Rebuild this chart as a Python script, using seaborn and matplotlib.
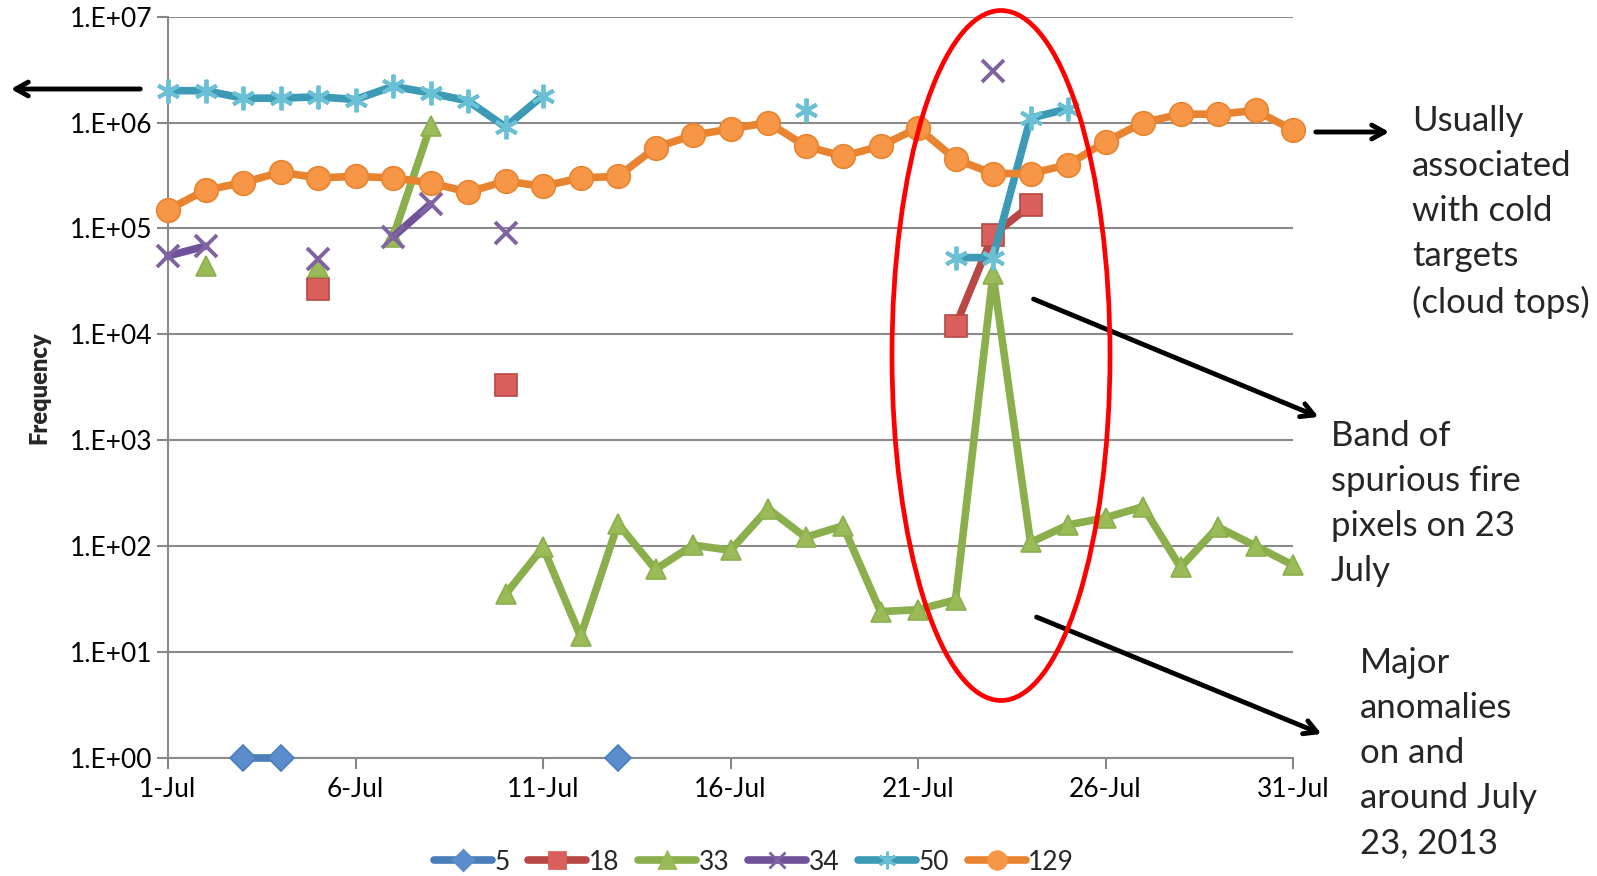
import numpy as np
import pandas as pd
import matplotlib.pyplot as plt
from matplotlib.lines import Line2D
from matplotlib.patches import Ellipse
import seaborn as sns

# day of July
days = list(range(1, 32))
nan = np.nan

s5 = [nan, nan, 1, 1, nan, nan, nan, nan, nan, nan, nan, nan, 1, nan, nan, nan,
      nan, nan, nan, nan, nan, nan, nan, nan, nan, nan, nan, nan, nan, nan, nan]
s18 = [nan, nan, nan, nan, 2.7e4, nan, nan, nan, nan, 3.3e3, nan, nan, nan, nan, nan, nan,
       nan, nan, nan, nan, nan, 1.2e4, 8.7e4, 1.65e5, nan, nan, nan, nan, nan, nan, nan]
s33 = [nan, 4.4e4, nan, nan, 4.3e4, nan, 8.3e4, 9.3e5, nan, 35, 97, 14, 162, 60, 102, 91,
       225, 121, 155, 24, 25, 31, 3.7e4, 108, 158, 185, 235, 63, 151, 100, 66]
s34 = [5.5e4, 6.8e4, nan, nan, 5.1e4, nan, 8.3e4, 1.7e5, nan, 9.1e4, nan, nan, nan, nan, nan, nan,
       nan, nan, nan, nan, nan, nan, 3.1e6, nan, nan, nan, nan, nan, nan, nan, nan]
s50 = [2.0e6, 2.0e6, 1.7e6, 1.7e6, 1.75e6, 1.65e6, 2.2e6, 1.9e6, 1.6e6, 9.1e5, 1.8e6, nan, nan, nan, nan, nan,
       nan, 1.3e6, nan, nan, nan, 5.3e4, 5.3e4, 1.1e6, 1.35e6, nan, nan, nan, nan, nan, nan]
s129 = [1.5e5, 2.3e5, 2.7e5, 3.4e5, 3.0e5, 3.1e5, 3.0e5, 2.7e5, 2.2e5, 2.8e5, 2.5e5, 3.0e5, 3.1e5, 5.8e5, 7.6e5, 8.7e5,
        1.0e6, 6.0e5, 4.8e5, 6.0e5, 8.9e5, 4.5e5, 3.3e5, 3.3e5, 4.0e5, 6.6e5, 1.0e6, 1.2e6, 1.2e6, 1.3e6, 8.5e5]

series_names = ['5', '18', '33', '34', '50', '129']
series_vals = [s5, s18, s33, s34, s50, s129]
line_colors = ['#4A7EBB', '#B84845', '#8BAF4C', '#6F529A', '#3C9AB5', '#E8842F']
face_colors = ['#5B8CCB', '#D9605C', '#9BBB59', '#8064A2', '#6BC0D6', '#F79646']
markers = ['D', 's', '^', 'x', (6, 2, 0), 'o']
msizes = [13, 16, 15, 16, 17, 17]

xtick_pos = [1, 6, 11, 16, 21, 26, 31]
xtick_lab = ['1-Jul', '6-Jul', '11-Jul', '16-Jul', '21-Jul', '26-Jul', '31-Jul']
ytick_pos = [1, 10, 100, 1e3, 1e4, 1e5, 1e6, 1e7]
ytick_lab = ['1.E+00', '1.E+01', '1.E+02', '1.E+03', '1.E+04', '1.E+05', '1.E+06', '1.E+07']

sns.set_style('white')
plt.rcParams['font.family'] = ['Lato', 'DejaVu Sans']

W, H = 1597, 876
fig = plt.figure(figsize=(W / 100, H / 100), dpi=100)
ax = fig.add_axes([168 / W, 1 - 757.7 / H, (1293 - 168) / W, (757.7 - 16.7) / H])

for name, vals, lc, fc, mk, ms in zip(series_names, series_vals, line_colors,
                                       face_colors, markers, msizes):
    df = pd.DataFrame({'day': days, 'val': vals})
    # break lines where Excel leaves gaps
    df['seg'] = df['val'].isna().cumsum()
    df = df.dropna()
    for _, seg in df.groupby('seg'):
        kw = dict(marker=mk, markersize=ms, markerfacecolor=fc)
        if mk in ('x', (6, 2, 0)):
            kw.update(markeredgecolor=fc, markeredgewidth=2.8)
        else:
            kw.update(markeredgecolor=lc, markeredgewidth=1.2)
        sns.lineplot(data=seg, x='day', y='val', ax=ax, color=lc, lw=5.5,
                     legend=False, clip_on=False, zorder=3, **kw)

ax.set_yscale('log')
ax.set_ylim(1, 1e7)
ax.set_xlim(1, 31)
ax.set_yticks(ytick_pos)
ax.set_yticklabels(ytick_lab)
ax.minorticks_off()
ax.set_xticks(xtick_pos)
ax.set_xticklabels(xtick_lab)
ax.tick_params(axis='both', labelsize=19, colors='#868686', labelcolor='black',
               length=8, width=1.5, direction='out', left=True, bottom=True)
ax.tick_params(axis='x', pad=6)
ax.grid(axis='y', color='#8A8A8A', lw=1.5)
ax.grid(axis='x', visible=False)
for sp in ['top', 'right']:
    ax.spines[sp].set_visible(False)
for sp in ['left', 'bottom']:
    ax.spines[sp].set_color('#8A8A8A')
    ax.spines[sp].set_linewidth(1.5)
ax.set_xlabel('')
ax.set_ylabel('Frequency', fontsize=17, fontweight='heavy', labelpad=14)

# legend at the bottom
handles = [Line2D([0], [0], color=lc, lw=5.5, marker=mk, markersize=ms * 0.75,
                  markerfacecolor=fc, markeredgecolor=fc, markeredgewidth=2)
           for lc, fc, mk, ms in zip(line_colors, face_colors, markers, msizes)]
fig.legend(handles, series_names, loc='center', bbox_to_anchor=(754 / W, 1 - 862 / H),
           ncol=6, frameon=False, fontsize=19, handlelength=2.2, handletextpad=0.1,
           columnspacing=0.7)

# red ellipse around 23 July
fig.patches.append(Ellipse((1001 / W, 1 - 355.5 / H), 218 / W, 690 / H,
                           transform=fig.transFigure, fill=False, ec='red', lw=3.4))

# arrows
arrows = [((143, 89), (8, 89)), ((1313, 132), (1392, 132)),
          ((1031, 298), (1321, 418)), ((1034, 616), (1324, 735))]
for (x0, y0), (x1, y1) in arrows:
    ax.annotate('', xy=(x1 / W, 1 - y1 / H), xytext=(x0 / W, 1 - y0 / H),
                xycoords='figure fraction', textcoords='figure fraction',
                arrowprops=dict(arrowstyle='->,head_length=0.9,head_width=0.5',
                                color='black', lw=3.5))

notes = [(1412, 105, 'Usually\nassociated\nwith cold\ntargets\n(cloud tops)'),
         (1331, 420, 'Band of\nspurious fire\npixels on 23\nJuly'),
         (1360, 647, 'Major\nanomalies\non and\naround July\n23, 2013')]
for x, y, t in notes:
    fig.text(x / W, 1 - y / H, t, fontsize=25, va='top', ha='left', linespacing=1.5)

fig.savefig('out.png', dpi=100)
